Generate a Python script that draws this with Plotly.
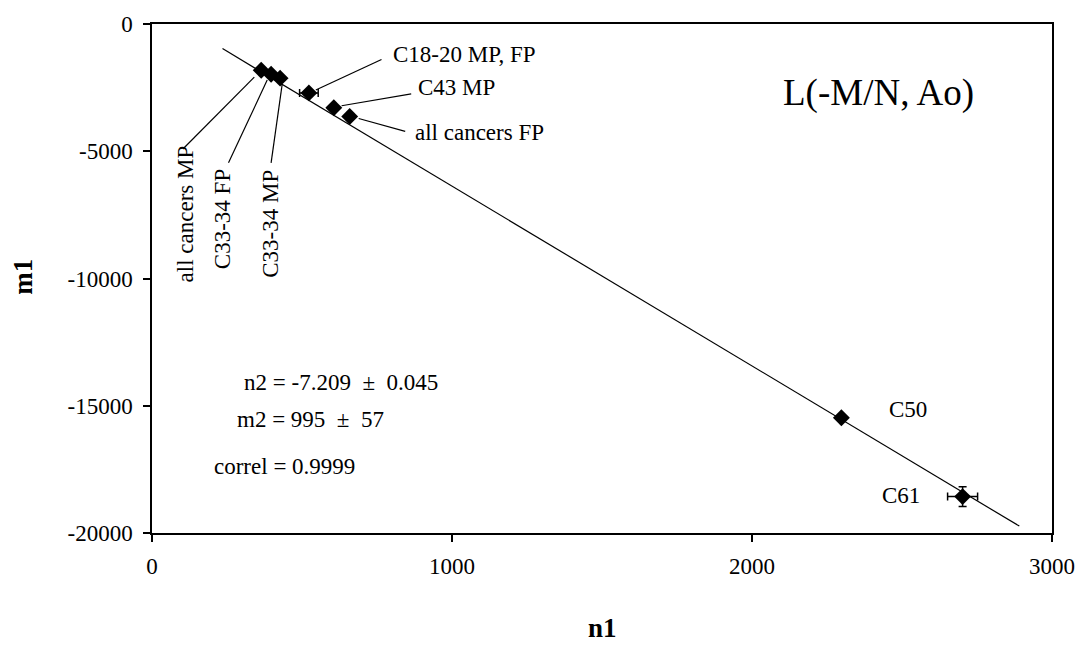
import plotly.graph_objects as go

# Data
labels = ["all cancers MP", "C33-34 FP", "C33-34 MP", "C18-20 MP, FP",
          "C43 MP", "all cancers FP", "C50", "C61"]
n1 = [364, 397, 427, 523, 606, 659, 2298, 2702]
m1 = [-1818, -1973, -2128, -2708, -3288, -3636, -15474, -18569]
n1_err = [0, 0, 0, 31, 0, 0, 0, 50]
m1_err = [0, 0, 0, 0, 0, 0, 0, 387]

# Fit line end points
line_n1 = [235, 2891]
line_m1 = [-967, -19729]

# Axis ticks
x_ticks = [0, 1000, 2000, 3000]
x_ticktext = ["0", "1000", "2000", "3000"]
y_ticks = [-20000, -15000, -10000, -5000, 0]
y_ticktext = ["-20000", "-15000", "-10000", "-5000", "0"]

# Leader lines: (x0, y0, x1, y1) in data units
leaders = [
    (341, -2089, 103, -4913),
    (384, -2205, 255, -5455),
    (434, -2360, 397, -5455),
    (546, -2592, 765, -1393),
    (632, -3211, 864, -2747),
    (689, -3714, 844, -4217),
]

FONT = "Liberation Serif, Times New Roman, serif"
FS = 23

fig = go.Figure()
fig.add_trace(go.Scatter(x=line_n1, y=line_m1, mode="lines",
                         line=dict(color="black", width=1.2), showlegend=False))
fig.add_trace(go.Scatter(
    x=n1, y=m1, mode="markers",
    marker=dict(symbol="diamond", size=13, color="black"),
    error_x=dict(type="data", array=n1_err, color="black", thickness=1.5, width=4),
    error_y=dict(type="data", array=m1_err, color="black", thickness=1.5, width=4),
    showlegend=False))

for (x0, y0, x1, y1) in leaders:
    fig.add_shape(type="line", x0=x0, y0=y0, x1=x1, y1=y1, xref="x", yref="y",
                  line=dict(color="black", width=1.2))

ann = []
def txt(t, x, y, xa="center", ya="middle", angle=0, size=FS, bold=False,
        xref="x", yref="y", yshift=0):
    ann.append(dict(text=("<b>%s</b>" % t) if bold else t, x=x, y=y, xref=xref, yref=yref,
                    xanchor=xa, yanchor=ya, textangle=angle, showarrow=False, yshift=yshift,
                    font=dict(family=FONT, size=size, color="black")))

txt("C18-20 MP, FP", 795, -1199, xa="left")
txt("C43 MP", 881, -2476, xa="left")
txt("all cancers FP", 871, -4255, xa="left")
txt("all cancers MP", 113, -4913, ya="top", angle=-90, yshift=6)
txt("C33-34 FP", 235, -5880, ya="top", angle=-90, yshift=6)
txt("C33-34 MP", 397, -5880, ya="top", angle=-90, yshift=6)
txt("C50", 2520, -15164)
txt("C61", 2497, -18530)
txt("L(-M/N, Ao)", 2421, -2708, size=37)
nb = "\u00a0"
txt("n2 = -7.209" + nb * 2 + "±" + nb * 2 + "0.045", 301, -14081, xa="left")
txt("m2 = 995" + nb * 2 + "±" + nb * 2 + "57", 275, -15551, xa="left")
txt("correl = 0.9999", 199, -17369, xa="left")
txt("m1", -0.1435, 0.503, angle=-90, size=27, bold=True, xref="paper", yref="paper")
txt("n1", 0.5, -0.1876, size=27, bold=True, xref="paper", yref="paper")

axis_common = dict(showgrid=False, zeroline=False, showline=True, linecolor="black",
                   linewidth=1.5, mirror=True, ticks="outside", ticklen=7,
                   tickwidth=1.5, tickcolor="black",
                   tickfont=dict(family=FONT, size=FS, color="black"))

fig.update_layout(
    width=1087, height=646,
    margin=dict(l=152, r=29, t=16, b=113),
    paper_bgcolor="white", plot_bgcolor="white",
    xaxis=dict(range=[0, 3000], tickvals=x_ticks, ticktext=x_ticktext,
               ticklabelstandoff=5, **axis_common),
    yaxis=dict(range=[-20000, 0], tickvals=y_ticks, ticktext=y_ticktext,
               ticklabelstandoff=6, **axis_common),
    annotations=ann,
)

fig.write_html("out.html")
